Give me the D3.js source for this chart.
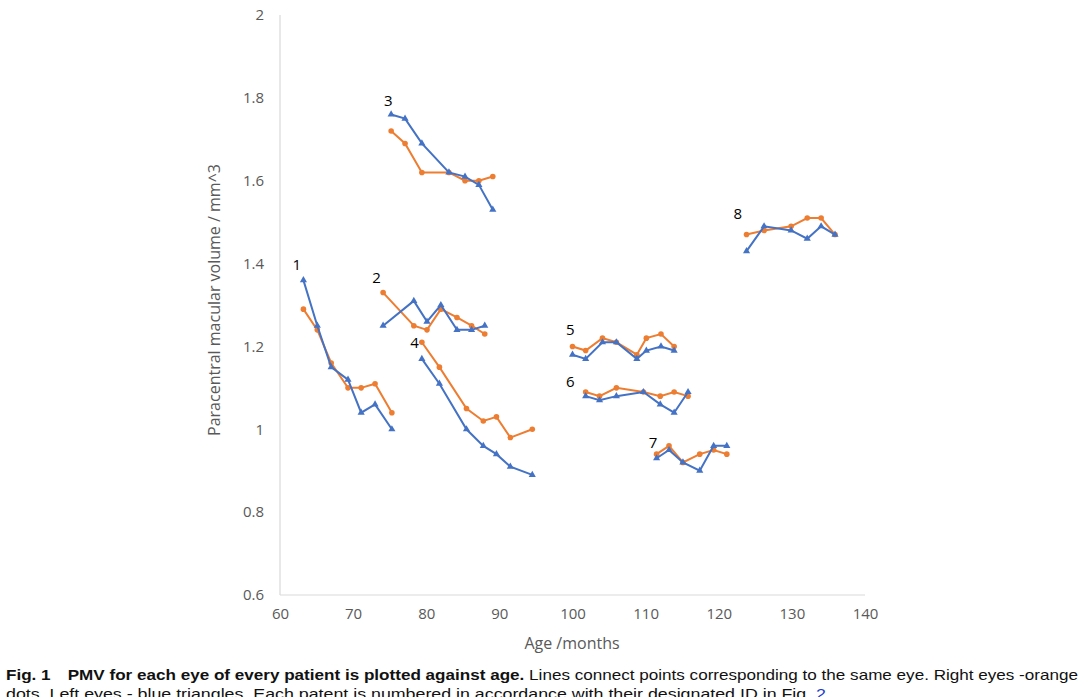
<!DOCTYPE html>
<html>
<head>
<meta charset="utf-8">
<script src="https://cdn.jsdelivr.net/npm/d3@7"></script>
<style>
  body { margin: 0; background: #fff; }
  text { font-family: "Open Sans", "Noto Sans", sans-serif; }
  .tick text { fill: #595959; font-size: 15px; }
  .caption { font-family: "Liberation Sans", sans-serif; font-size: 15px; fill: #111; }
</style>
</head>
<body>
<div id="chart"></div>
<script>
// patient ids and ages (months) for each visit
var patients = ["1", "2", "3", "4", "5", "6", "7", "8"];
var ages = [
  [63.2, 65.1, 67.0, 69.3, 71.1, 73.0, 75.3],
  [74.1, 78.3, 80.1, 82.0, 84.2, 86.2, 88.0],
  [75.2, 77.1, 79.4, 83.1, 85.3, 87.2, 89.1],
  [79.4, 81.8, 85.5, 87.8, 89.6, 91.5, 94.5],
  [100.0, 101.8, 104.1, 106.0, 108.8, 110.1, 112.1, 113.9],
  [101.8, 103.7, 106.0, 109.7, 112.0, 113.9, 115.8],
  [111.5, 113.2, 115.1, 117.4, 119.3, 121.1],
  [123.8, 126.2, 129.9, 132.1, 134.0, 135.9]
];
// right eyes (orange dots)
var rightEye = [
  [1.29, 1.24, 1.16, 1.10, 1.10, 1.11, 1.04],
  [1.33, 1.25, 1.24, 1.29, 1.27, 1.25, 1.23],
  [1.72, 1.69, 1.62, 1.62, 1.60, 1.60, 1.61],
  [1.21, 1.15, 1.05, 1.02, 1.03, 0.98, 1.00],
  [1.20, 1.19, 1.22, 1.21, 1.18, 1.22, 1.23, 1.20],
  [1.09, 1.08, 1.10, 1.09, 1.08, 1.09, 1.08],
  [0.94, 0.96, 0.92, 0.94, 0.95, 0.94],
  [1.47, 1.48, 1.49, 1.51, 1.51, 1.47]
];
// left eyes (blue triangles)
var leftEye = [
  [1.36, 1.25, 1.15, 1.12, 1.04, 1.06, 1.00],
  [1.25, 1.31, 1.26, 1.30, 1.24, 1.24, 1.25],
  [1.76, 1.75, 1.69, 1.62, 1.61, 1.59, 1.53],
  [1.17, 1.11, 1.00, 0.96, 0.94, 0.91, 0.89],
  [1.18, 1.17, 1.21, 1.21, 1.17, 1.19, 1.20, 1.19],
  [1.08, 1.07, 1.08, 1.09, 1.06, 1.04, 1.09],
  [0.93, 0.95, 0.92, 0.90, 0.96, 0.96],
  [1.43, 1.49, 1.48, 1.46, 1.49, 1.47]
];
// where each patient number sits (age, volume)
var labelPos = [
  [62.3, 1.395], [73.2, 1.363], [74.8, 1.79], [78.4, 1.206],
  [99.7, 1.238], [99.7, 1.111], [111.0, 0.965], [122.6, 1.518]
];
var xTicks = [60, 70, 80, 90, 100, 110, 120, 130, 140];
var yTicks = [0.6, 0.8, 1, 1.2, 1.4, 1.6, 1.8, 2];

var width = 1080, height = 697;
var orange = "#ED7D31", blue = "#4472C4";

var svg = d3.select("#chart").append("svg")
  .attr("width", width)
  .attr("height", height);

var x = d3.scaleLinear().domain([60, 140]).range([280, 865]);
var y = d3.scaleLinear().domain([0.6, 2]).range([595, 15]);

// axes lines
svg.append("line")
  .attr("x1", x(60)).attr("x2", x(60))
  .attr("y1", y(2)).attr("y2", y(0.6))
  .attr("stroke", "#d9d9d9").attr("stroke-width", 1.2);
svg.append("line")
  .attr("x1", x(60)).attr("x2", x(140))
  .attr("y1", y(0.6)).attr("y2", y(0.6))
  .attr("stroke", "#d9d9d9").attr("stroke-width", 1.2);

var yAxis = d3.axisLeft(y).tickValues(yTicks).tickSize(0).tickPadding(16)
  .tickFormat(d => d3.format("")(d));
svg.append("g")
  .attr("transform", `translate(${x(60)},0)`)
  .call(yAxis)
  .call(g => g.select(".domain").remove());

var xAxis = d3.axisBottom(x).tickValues(xTicks).tickSize(0).tickPadding(13);
svg.append("g")
  .attr("transform", `translate(0,${y(0.6)})`)
  .call(xAxis)
  .call(g => g.select(".domain").remove());

svg.append("text")
  .attr("x", 572).attr("y", 649)
  .attr("text-anchor", "middle")
  .style("font-size", "16px").style("fill", "#595959")
  .text("Age /months");

svg.append("text")
  .attr("transform", "translate(220,300) rotate(-90)")
  .attr("text-anchor", "middle")
  .style("font-size", "16px").style("fill", "#595959")
  .text("Paracentral macular volume / mm^3");

var line = d3.line().x(d => x(d[0])).y(d => y(d[1]));
var tri = d3.symbol().type(d3.symbolTriangle).size(22);

patients.forEach((p, i) => {
  var right = ages[i].map((a, j) => [a, rightEye[i][j]]);
  var left = ages[i].map((a, j) => [a, leftEye[i][j]]);

  var g = svg.append("g").attr("class", "patient p" + p);

  g.append("path").datum(right)
    .attr("d", line).attr("fill", "none")
    .attr("stroke", orange).attr("stroke-width", 2);
  g.selectAll("circle").data(right).enter().append("circle")
    .attr("cx", d => x(d[0])).attr("cy", d => y(d[1]))
    .attr("r", 2.8).attr("fill", orange);

  g.append("path").datum(left)
    .attr("d", line).attr("fill", "none")
    .attr("stroke", blue).attr("stroke-width", 2);
  g.selectAll("path.tri").data(left).enter().append("path")
    .attr("class", "tri")
    .attr("d", tri)
    .attr("transform", d => `translate(${x(d[0])},${y(d[1])})`)
    .attr("fill", blue);

  svg.append("text")
    .attr("x", x(labelPos[i][0])).attr("y", y(labelPos[i][1]))
    .attr("text-anchor", "middle")
    .attr("dominant-baseline", "middle")
    .style("font-size", "15px").style("fill", "#000")
    .text(p);
});

// caption
var cap1 = svg.append("text").attr("class", "caption")
  .attr("x", 6).attr("y", 680)
  .attr("textLength", 1072).attr("lengthAdjust", "spacingAndGlyphs");
cap1.append("tspan").style("font-weight", "bold").text("Fig. 1\u2003PMV for each eye of every patient is plotted against age.");
cap1.append("tspan").text(" Lines connect points corresponding to the same eye. Right eyes -orange");

var cap2 = svg.append("text").attr("class", "caption")
  .attr("x", 6).attr("y", 699)
  .attr("textLength", 820).attr("lengthAdjust", "spacingAndGlyphs");
cap2.append("tspan").text("dots. Left eyes - blue triangles. Each patent is numbered in accordance with their designated ID in Fig. ");
cap2.append("tspan").style("fill", "#1a3ccf").text("2");
</script>
</body>
</html>
